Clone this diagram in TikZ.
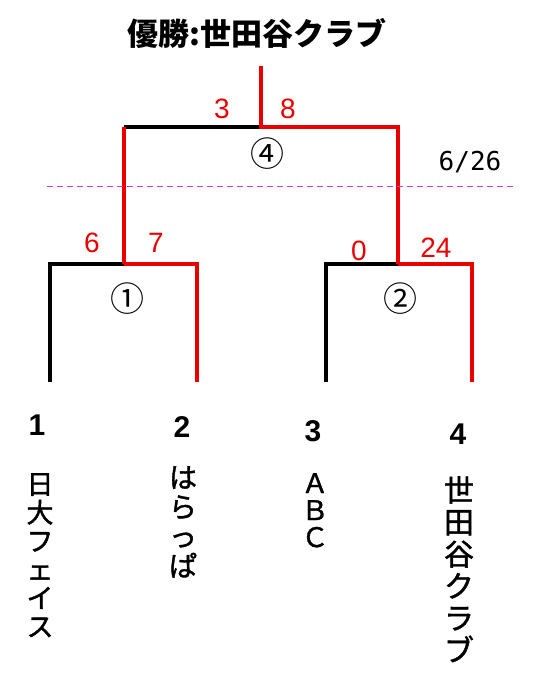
\documentclass[tikz,border=0pt]{standalone}
\usepackage{fontspec}
\newfontfamily\jp{Noto Sans CJK JP}
\newfontfamily\jpm[FakeBold=1.4]{Noto Sans CJK JP}
\newfontfamily\ar{Liberation Sans}
\newfontfamily\mono{DejaVu Sans Mono}
\definecolor{bred}{RGB}{235,0,0}
\definecolor{dmag}{RGB}{210,60,210}
\tikzset{
  lose/.style={draw=black,line width=3.5pt},
  win/.style={draw=bred,line width=3.5pt},
  score/.style={text=bred,font=\ar\fontsize{28}{30}\selectfont,inner sep=0pt},
  match/.style={font=\jp\fontsize{34}{36}\selectfont,inner sep=0pt},
  seed/.style={font=\ar\bfseries\fontsize{30}{32}\selectfont,inner sep=0pt},
  team/.style={align=center,anchor=north,inner sep=0pt},
}
\begin{document}
\begin{tikzpicture}[x=1pt,y=-1pt]
\useasboundingbox (0,0) rectangle (542,681);
\fill[white] (0,0) rectangle (542,681);
% title
\node[font=\jp\bfseries\fontsize{31}{33}\selectfont,inner sep=0pt] (title) at (257,33) {優勝:世田谷クラブ};
% bracket points
\coordinate (fTop) at (261,66);
\coordinate (fJ) at (261,127);
\coordinate (fL) at (124,127);
\coordinate (fR) at (398,127);
\coordinate (aJ) at (124,264);
\coordinate (aL) at (50,264);
\coordinate (aR) at (197,264);
\coordinate (aLb) at (50,382);
\coordinate (aRb) at (197,382);
\coordinate (bJ) at (398,264);
\coordinate (bL) at (326,264);
\coordinate (bR) at (472,264);
\coordinate (bLb) at (326,382);
\coordinate (bRb) at (472,382);
% losers
\draw[lose] (fL) -- (fJ);
\draw[lose] (aLb) -- (aL) -- (aJ);
\draw[lose] (bLb) -- (bL) -- (bJ);
% winners
\draw[win] (fTop) -- (fJ) -- (fR) -- (bJ);
\draw[win] (fL) -- (aJ);
\draw[win] (aJ) -- (aR) -- (aRb);
\draw[win] (bJ) -- (bR) -- (bRb);
% date line
\coordinate (dL) at (47,186);
\coordinate (dR) at (517,186);
\draw[dmag,line width=1pt,dash pattern=on 6pt off 4pt] (dL) -- (dR);
\node[font=\mono\fontsize{26}{28}\selectfont,inner sep=0pt] (date) at (470,162) {6/26};
% scores
\node[score] (s3) at (222,109) {3};
\node[score] (s8) at (288,109) {8};
\node[score] (s6) at (92,243) {6};
\node[score] (s7) at (156,243) {7};
\node[score] (s0) at (359,251) {0};
\node[score] (s24) at (436,248) {24};
% match numbers
\node[match] (m4) at (267,154) {④};
\node[match] (m1) at (127,299) {①};
\node[match] (m2) at (400,299) {②};
% seeds
\node[seed] (n1) at (37,425) {1};
\node[seed] (n2) at (182,427) {2};
\node[seed] (n3) at (313,431) {3};
\node[seed] (n4) at (458,434) {4};
% teams
\node[team,font=\jpm\fontsize{27}{28.5}\selectfont] (t1) at (40,473) {日\\大\\フ\\ェ\\イ\\ス};
\node[team,font=\jpm\fontsize{28}{29.5}\selectfont] (t2) at (183,466) {は\\ら\\っ\\ぱ};
\node[team,font=\jpm\fontsize{27}{27}\selectfont] (t3) at (315,473) {Ａ\\Ｂ\\Ｃ};
\node[team,font=\jpm\fontsize{30}{32}\selectfont] (t4) at (459,476) {世\\田\\谷\\ク\\ラ\\ブ};
\end{tikzpicture}
\end{document}
